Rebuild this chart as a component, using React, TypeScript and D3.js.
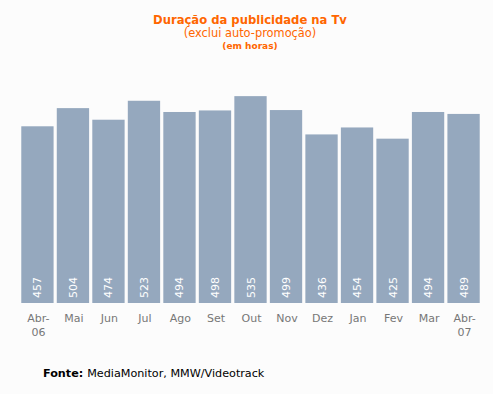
import React, { useRef, useEffect } from 'react'
import * as d3 from 'd3'

const months = ['Abr-|06', 'Mai', 'Jun', 'Jul', 'Ago', 'Set', 'Out', 'Nov', 'Dez', 'Jan', 'Fev', 'Mar', 'Abr-|07']
const hours = [457, 504, 474, 523, 494, 498, 535, 499, 436, 454, 425, 494, 489]

const W = 493
const H = 394

const App: React.FC = () => {
  const ref = useRef<SVGSVGElement>(null)

  useEffect(() => {
    if (!ref.current) return
    const svg = d3.select(ref.current)
    svg.selectAll('*').remove()

    svg.append('rect').attr('width', W).attr('height', H).attr('fill', '#fcfcfc')

    const x = d3.scaleBand<number>()
      .domain(d3.range(hours.length))
      .range([19.5, 481.5])
      .paddingInner(0.09)
      .paddingOuter(0.05)

    const y = d3.scaleLinear().domain([0, 600]).range([303, 71])

    const font = 'DejaVu Sans, Verdana, sans-serif'

    // bars
    svg.append('g')
      .selectAll('rect')
      .data(hours)
      .join('rect')
      .attr('x', (d, i) => x(i)!)
      .attr('width', x.bandwidth())
      .attr('y', d => y(d))
      .attr('height', d => y(0) - y(d))
      .attr('fill', '#95a8be')

    // value labels
    svg.append('g')
      .selectAll('text')
      .data(hours)
      .join('text')
      .attr('transform', (d, i) => `translate(${x(i)! + x.bandwidth() / 2 + 4},298) rotate(-90)`)
      .attr('text-anchor', 'start')
      .style('font-family', font)
      .style('font-size', '11px')
      .style('fill', '#ffffff')
      .text(d => String(d))

    // month labels
    const lbl = svg.append('g')
      .selectAll('text')
      .data(months)
      .join('text')
      .attr('text-anchor', 'middle')
      .style('font-family', font)
      .style('font-size', '11px')
      .style('fill', '#777777')
    lbl.each(function (m, i) {
      const t = d3.select(this)
      m.split('|').forEach((part, k) => {
        t.append('tspan')
          .attr('x', x(i)! + x.bandwidth() / 2 + 1)
          .attr('y', 322 + k * 14)
          .text(part)
      })
    })

    // titles
    svg.append('text')
      .attr('x', 250).attr('y', 24)
      .attr('text-anchor', 'middle')
      .style('font-family', font)
      .style('font-size', '11.6px')
      .style('font-weight', 'bold')
      .style('fill', '#ff6600')
      .text('Duração da publicidade na Tv')

    svg.append('text')
      .attr('x', 250).attr('y', 37)
      .attr('text-anchor', 'middle')
      .style('font-family', font)
      .style('font-size', '11.4px')
      .style('fill', '#ff6600')
      .text('(exclui auto-promoção)')

    svg.append('text')
      .attr('x', 250).attr('y', 49)
      .attr('text-anchor', 'middle')
      .style('font-family', font)
      .style('font-size', '9px')
      .style('font-weight', 'bold')
      .style('fill', '#ff6600')
      .text('(em horas)')

    const src = svg.append('text')
      .attr('x', 43).attr('y', 377)
      .style('font-family', font)
      .style('font-size', '11.2px')
      .style('fill', '#000000')
    src.append('tspan').style('font-weight', 'bold').text('Fonte: ')
    src.append('tspan').text('MediaMonitor, MMW/Videotrack')
  }, [])

  return (
    <div style={{ position: 'fixed', left: 0, top: 0 }}>
      <svg ref={ref} width={W} height={H} style={{ display: 'block' }} />
    </div>
  )
}

export default App
